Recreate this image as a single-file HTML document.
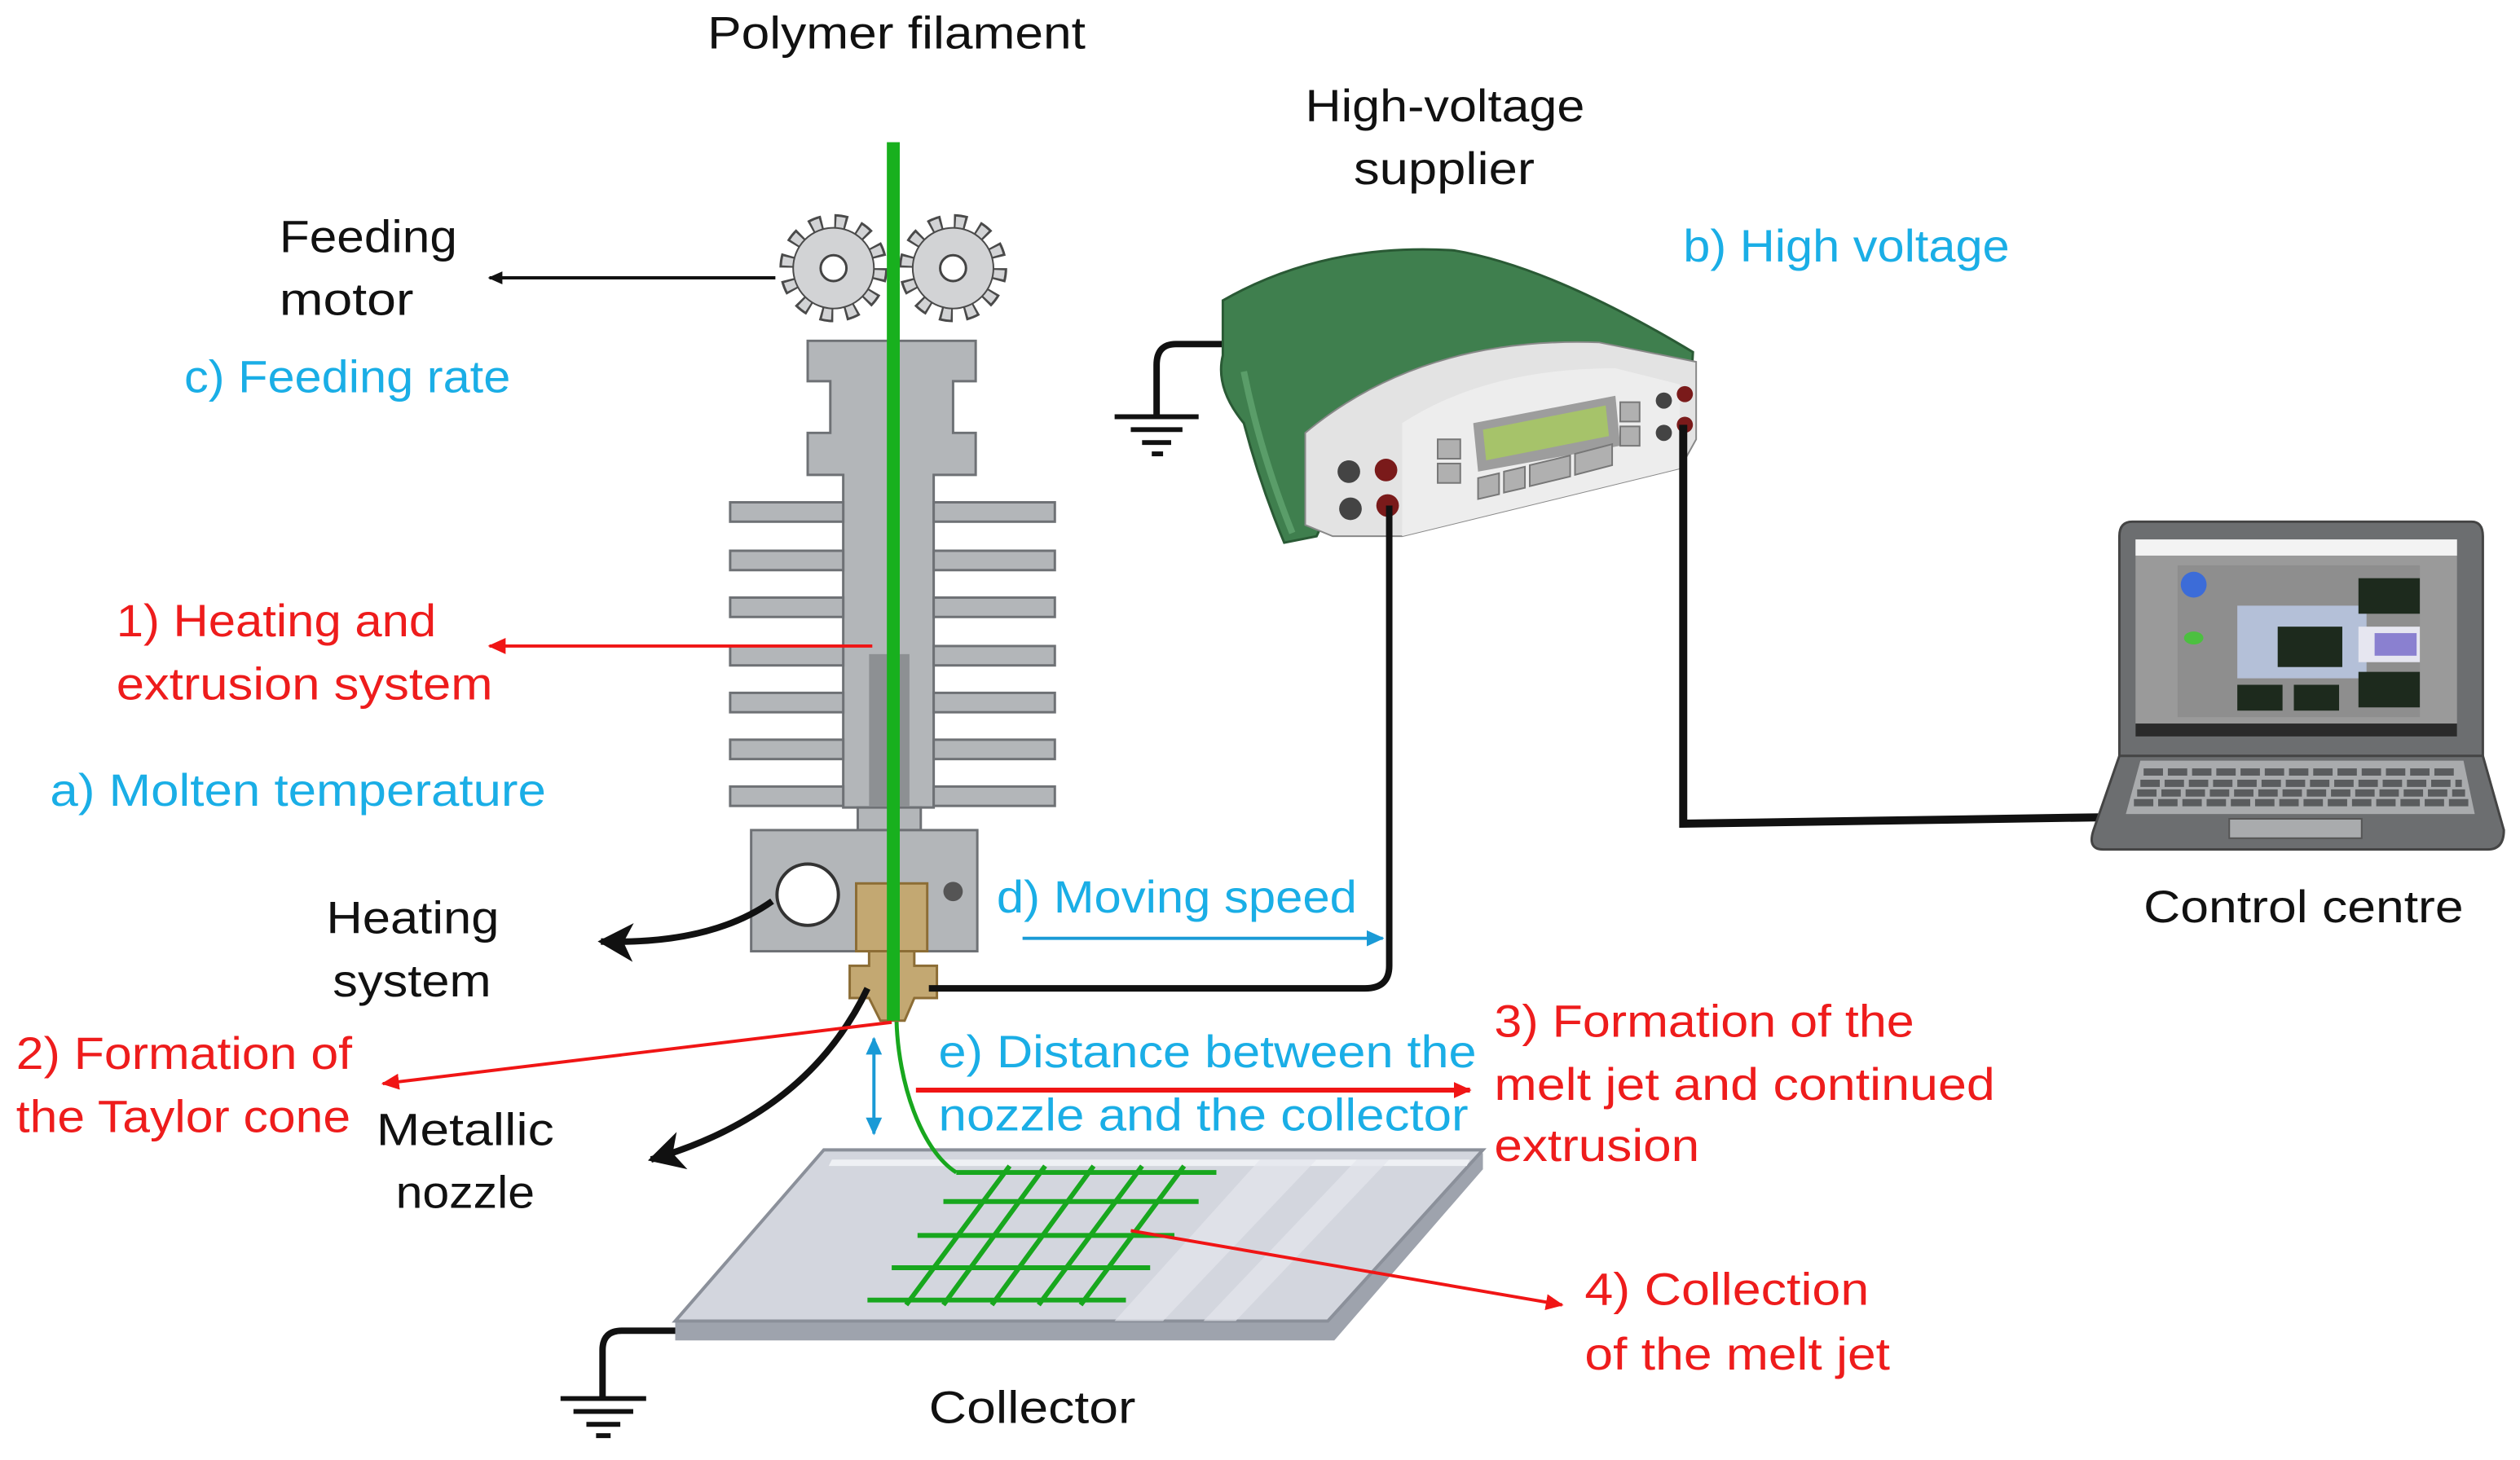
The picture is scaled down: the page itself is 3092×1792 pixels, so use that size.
<!DOCTYPE html>
<html><head><meta charset="utf-8"><style>
html,body{margin:0;padding:0;background:#fff;}
svg{display:block;}
text{font-family:"Liberation Sans",sans-serif;font-size:28px;}
.k{fill:#111;}.c{fill:#1aaee6;}.r{fill:#ee1c1c;}
</style></head><body>
<svg width="3092" height="1792" viewBox="0 0 1560 904" xmlns="http://www.w3.org/2000/svg">
<defs>
<marker id="ak" markerWidth="10" markerHeight="10" refX="8" refY="5" orient="auto" markerUnits="userSpaceOnUse"><path d="M0,1 L9,5 L0,9 Z" fill="#111"/></marker>
<marker id="ar" markerWidth="12" markerHeight="12" refX="10" refY="6" orient="auto" markerUnits="userSpaceOnUse"><path d="M0,1 L11,6 L0,11 Z" fill="#f01515"/></marker>
<marker id="ac" markerWidth="12" markerHeight="12" refX="10" refY="6" orient="auto" markerUnits="userSpaceOnUse"><path d="M0,1 L11,6 L0,11 Z" fill="#1a9ad6"/></marker>
<marker id="abig" markerWidth="26" markerHeight="26" refX="20" refY="13" orient="auto" markerUnits="userSpaceOnUse"><path d="M0,1 L22,13 L0,25 L6,13 Z" fill="#111"/></marker>
</defs>

<!-- texts -->
<g lengthAdjust="spacingAndGlyphs">
<text x="438" y="30" class="k" textLength="234" lengthAdjust="spacingAndGlyphs">Polymer filament</text>
<text x="808" y="75" class="k" textLength="173" lengthAdjust="spacingAndGlyphs">High-voltage</text>
<text x="838" y="114" class="k" textLength="112" lengthAdjust="spacingAndGlyphs">supplier</text>
<text x="1042" y="162" class="c" textLength="202" lengthAdjust="spacingAndGlyphs">b) High voltage</text>
<text x="173" y="156" class="k" textLength="110" lengthAdjust="spacingAndGlyphs">Feeding</text>
<text x="173" y="195" class="k" textLength="83" lengthAdjust="spacingAndGlyphs">motor</text>
<text x="114" y="243" class="c" textLength="202" lengthAdjust="spacingAndGlyphs">c) Feeding rate</text>
<text x="72" y="394" class="r" textLength="198" lengthAdjust="spacingAndGlyphs">1) Heating and</text>
<text x="72" y="433" class="r" textLength="233" lengthAdjust="spacingAndGlyphs">extrusion system</text>
<text x="31" y="499" class="c" textLength="307" lengthAdjust="spacingAndGlyphs">a) Molten temperature</text>
<text x="202" y="578" class="k" textLength="107" lengthAdjust="spacingAndGlyphs">Heating</text>
<text x="206" y="617" class="k" textLength="98" lengthAdjust="spacingAndGlyphs">system</text>
<text x="617" y="565" class="c" textLength="223" lengthAdjust="spacingAndGlyphs">d) Moving speed</text>
<text x="10" y="662" class="r" textLength="208" lengthAdjust="spacingAndGlyphs">2) Formation of</text>
<text x="10" y="701" class="r" textLength="207" lengthAdjust="spacingAndGlyphs">the Taylor cone</text>
<text x="233" y="709" class="k" textLength="110" lengthAdjust="spacingAndGlyphs">Metallic</text>
<text x="245" y="748" class="k" textLength="86" lengthAdjust="spacingAndGlyphs">nozzle</text>
<text x="581" y="661" class="c" textLength="333" lengthAdjust="spacingAndGlyphs">e) Distance between the</text>
<text x="581" y="700" class="c" textLength="328" lengthAdjust="spacingAndGlyphs">nozzle and the collector</text>
<text x="925" y="642" class="r" textLength="260" lengthAdjust="spacingAndGlyphs">3) Formation of the</text>
<text x="925" y="681" class="r" textLength="310" lengthAdjust="spacingAndGlyphs">melt jet and continued</text>
<text x="925" y="719" class="r" textLength="127" lengthAdjust="spacingAndGlyphs">extrusion</text>
<text x="981" y="808" class="r" textLength="176" lengthAdjust="spacingAndGlyphs">4) Collection</text>
<text x="981" y="848" class="r" textLength="189" lengthAdjust="spacingAndGlyphs">of the melt jet</text>
<text x="575" y="881" class="k" textLength="128" lengthAdjust="spacingAndGlyphs">Collector</text>
<text x="1327" y="571" class="k" textLength="198" lengthAdjust="spacingAndGlyphs">Control centre</text>
</g>

<!-- collector plate -->
<polygon points="508,714 918,714 918,724 826,830 418,830 418,818" fill="#9ea3ad"/>
<polygon points="510,712 918,712 822,818 418,818" fill="#d3d6de" stroke="#8b909a" stroke-width="2"/>
<polygon points="515,718 910,718 908,722 513,722" fill="#eef0f4"/>
<polygon points="780,718 815,718 720,818 690,818" fill="#e4e6ec" opacity="0.7"/>
<polygon points="840,718 860,718 765,818 745,818" fill="#e4e6ec" opacity="0.7"/>
<path d="M418,824 L385,824 Q373,824 373,836 L373,866" fill="none" stroke="#111" stroke-width="4"/>
<g stroke="#111" stroke-width="3"><line x1="347" y1="866" x2="400" y2="866"/><line x1="355" y1="874" x2="392" y2="874"/><line x1="363" y1="882" x2="384" y2="882"/><line x1="369" y1="889" x2="378" y2="889"/></g>

<!-- grid -->
<g stroke="#18a71e" stroke-width="3">
<line x1="592" y1="726" x2="753" y2="726"/><line x1="584" y1="744" x2="742" y2="744"/>
<line x1="568" y1="765" x2="727" y2="765"/><line x1="552" y1="785" x2="712" y2="785"/>
<line x1="537" y1="805" x2="697" y2="805"/>
<line x1="625" y1="722" x2="561" y2="808"/><line x1="647" y1="722" x2="584" y2="808"/>
<line x1="677" y1="722" x2="614" y2="808"/><line x1="707" y1="722" x2="643" y2="808"/>
<line x1="733" y1="722" x2="669" y2="808"/>
</g>
<path d="M555,632 C556,670 570,712 592,726" fill="none" stroke="#18a71e" stroke-width="2.5"/>

<!-- heatsink -->
<g fill="#b3b6b9" stroke="#6e7175" stroke-width="1.5">
<path d="M500,211 L604,211 L604,236 L590,236 L590,268 L604,268 L604,294 L578,294 L578,500 L522,500 L522,294 L500,294 L500,268 L514,268 L514,236 L500,236 Z"/>
<rect x="452" y="311" width="70" height="12"/><rect x="452" y="341" width="70" height="12"/><rect x="452" y="370" width="70" height="12"/><rect x="452" y="400" width="70" height="12"/><rect x="452" y="429" width="70" height="12"/><rect x="452" y="458" width="70" height="12"/><rect x="452" y="487" width="70" height="12"/>
<rect x="578" y="311" width="75" height="12"/><rect x="578" y="341" width="75" height="12"/><rect x="578" y="370" width="75" height="12"/><rect x="578" y="400" width="75" height="12"/><rect x="578" y="429" width="75" height="12"/><rect x="578" y="458" width="75" height="12"/><rect x="578" y="487" width="75" height="12"/>
<rect x="531" y="500" width="39" height="14"/>
<rect x="465" y="514" width="140" height="75"/>
</g>
<rect x="523" y="294" width="54" height="10" fill="#b3b6b9"/>
<path d="M538,405 L563,405 L563,499 L538,499 Z" fill="#8d9093"/>
<circle cx="500" cy="554" r="19" fill="#fff" stroke="#333" stroke-width="2"/>
<circle cx="590" cy="552" r="6" fill="#555"/>
<rect x="530" y="547" width="44" height="42" fill="#c3a872" stroke="#8c6d35" stroke-width="1.5"/>
<path d="M538,589 L566,589 L566,598 L580,598 L580,618 L566,618 L560,632 L545,632 L538,618 L526,618 L526,598 L538,598 Z" fill="#c3a872" stroke="#8c6d35" stroke-width="1.5"/>

<!-- gears -->
<g fill="none">
<circle cx="516" cy="166" r="28" stroke="#4a4a4a" stroke-width="11" stroke-dasharray="7.5 7.2"/>
<circle cx="516" cy="166" r="28" stroke="#d2d3d5" stroke-width="8" stroke-dasharray="5 9.7" stroke-dashoffset="-1.2"/>
<circle cx="590" cy="166" r="28" stroke="#4a4a4a" stroke-width="11" stroke-dasharray="7.5 7.2"/>
<circle cx="590" cy="166" r="28" stroke="#d2d3d5" stroke-width="8" stroke-dasharray="5 9.7" stroke-dashoffset="-1.2"/>
</g>
<circle cx="516" cy="166" r="25" fill="#d2d3d5" stroke="#4a4a4a" stroke-width="1"/>
<circle cx="590" cy="166" r="25" fill="#d2d3d5" stroke="#4a4a4a" stroke-width="1"/>
<circle cx="516" cy="166" r="8" fill="#fff" stroke="#444" stroke-width="1.5"/>
<circle cx="590" cy="166" r="8" fill="#fff" stroke="#444" stroke-width="1.5"/>

<rect x="549" y="88" width="8" height="544" fill="#18b01e"/>

<!-- supply -->
<path d="M760,213 L728,213 Q716,213 716,226 L716,258" fill="none" stroke="#111" stroke-width="4"/>
<g stroke="#111" stroke-width="3"><line x1="690" y1="258" x2="742" y2="258"/><line x1="700" y1="266" x2="732" y2="266"/><line x1="707" y1="274" x2="725" y2="274"/><line x1="713" y1="281" x2="720" y2="281"/></g>
<path d="M757,186 Q820,150 900,155 Q960,165 1048,218 L1045,270 L830,300 L815,332 L795,336 Q780,300 770,262 Q752,240 757,220 Z" fill="#3f7f4e" stroke="#2a5a35" stroke-width="1.5"/>
<path d="M770,230 Q780,280 800,330" fill="none" stroke="#5a9d69" stroke-width="4"/>
<path d="M808,268 Q880,208 990,212 L1050,224 L1050,272 L1040,290 L868,332 L825,332 L808,325 Z" fill="#e3e3e3" stroke="#888" stroke-width="1"/>
<path d="M868,262 Q920,228 1000,228 L1040,238 L1040,290 L868,332 Z" fill="#ededed"/>
<polygon points="912,262 1000,245 1003,276 915,292" fill="#9d9d9d"/>
<polygon points="918,266 994,251 996,270 920,285" fill="#a6c36a"/>
<g fill="#b0b0b0" stroke="#777" stroke-width="1"><rect x="890" y="272" width="14" height="12"/><rect x="890" y="287" width="14" height="12"/><rect x="1003" y="249" width="12" height="12"/><rect x="1003" y="264" width="12" height="12"/><polygon points="915,296 928,293 928,306 915,309"/><polygon points="931,292 944,289 944,302 931,305"/><polygon points="947,288 972,282 972,295 947,301"/><polygon points="975,281 998,275 998,288 975,294"/></g>
<circle cx="835" cy="292" r="7" fill="#444"/><circle cx="858" cy="291" r="7" fill="#7a1a1a"/>
<circle cx="836" cy="315" r="7" fill="#444"/><circle cx="859" cy="313" r="7" fill="#7a1a1a"/>
<circle cx="1030" cy="248" r="5" fill="#444"/><circle cx="1043" cy="244" r="5" fill="#7a1a1a"/>
<circle cx="1030" cy="268" r="5" fill="#444"/><circle cx="1043" cy="263" r="5" fill="#7a1a1a"/>

<path d="M860,313 L860,598 Q860,612 845,612 L575,612" fill="none" stroke="#111" stroke-width="4"/>
<path d="M1042,263 L1042,510 L1305,506" fill="none" stroke="#111" stroke-width="5"/>

<!-- laptop -->
<path d="M1320,323 L1530,323 Q1537,323 1537,332 L1537,470 L1312,470 L1312,332 Q1312,323 1320,323 Z" fill="#6c6e70" stroke="#444" stroke-width="1.5"/>
<rect x="1322" y="334" width="199" height="122" fill="#9a9a9a"/>
<rect x="1322" y="334" width="199" height="10" fill="#f3f3f3"/>
<rect x="1322" y="448" width="199" height="8" fill="#2a2a2a"/>
<rect x="1348" y="350" width="150" height="94" fill="#8e8e8e"/>
<rect x="1385" y="375" width="80" height="45" fill="#b4c0d8"/>
<rect x="1410" y="388" width="40" height="25" fill="#1d2a1d"/>
<rect x="1460" y="358" width="38" height="22" fill="#1d2a1d"/>
<rect x="1460" y="388" width="38" height="22" fill="#e6e6f0"/>
<rect x="1470" y="392" width="26" height="14" fill="#8a80d0"/>
<rect x="1460" y="416" width="38" height="22" fill="#1d2a1d"/>
<rect x="1385" y="424" width="28" height="16" fill="#1d2a1d"/>
<rect x="1420" y="424" width="28" height="16" fill="#1d2a1d"/>
<circle cx="1358" cy="362" r="8" fill="#3c6cd8"/>
<ellipse cx="1358" cy="395" rx="6" ry="4" fill="#4cc040"/>
<path d="M1312,468 L1537,468 L1550,514 Q1550,526 1540,526 L1302,526 Q1292,526 1296,514 Z" fill="#6c6e70" stroke="#444" stroke-width="1.5"/>
<path d="M1325,471 L1525,471 L1532,504 L1316,504 Z" fill="#a9abad"/>
<g stroke="#5a5c5e" stroke-width="4.5" stroke-dasharray="12 3">
<line x1="1327" y1="478" x2="1522" y2="478"/><line x1="1325" y1="485" x2="1524" y2="485"/><line x1="1323" y1="491" x2="1526" y2="491"/><line x1="1321" y1="497" x2="1528" y2="497"/>
</g>
<rect x="1380" y="507" width="82" height="12" fill="#a9abad" stroke="#555" stroke-width="1"/>

<!-- arrows -->
<line x1="480" y1="172" x2="303" y2="172" stroke="#111" stroke-width="2" marker-end="url(#ak)"/>
<line x1="540" y1="400" x2="303" y2="400" stroke="#f01515" stroke-width="2" marker-end="url(#ar)"/>
<path d="M478,558 Q440,585 372,583" fill="none" stroke="#111" stroke-width="4" marker-end="url(#abig)"/>
<path d="M537,612 Q500,690 403,718" fill="none" stroke="#111" stroke-width="4" marker-end="url(#abig)"/>
<line x1="552" y1="633" x2="237" y2="671" stroke="#f01515" stroke-width="2" marker-end="url(#ar)"/>
<line x1="633" y1="581" x2="856" y2="581" stroke="#1a9ad6" stroke-width="2" marker-end="url(#ac)"/>
<line x1="541" y1="672" x2="541" y2="702" stroke="#1a9ad6" stroke-width="2" marker-end="url(#ac)"/>
<line x1="541" y1="672" x2="541" y2="643" stroke="#1a9ad6" stroke-width="2" marker-end="url(#ac)"/>
<line x1="567" y1="675" x2="910" y2="675" stroke="#f01515" stroke-width="3" marker-end="url(#ar)"/>
<line x1="700" y1="762" x2="967" y2="808" stroke="#f01515" stroke-width="2" marker-end="url(#ar)"/>
</svg>
</body></html>
